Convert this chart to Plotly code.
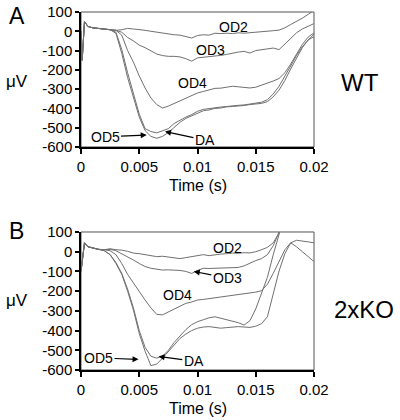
import plotly.graph_objects as go

# ---------------- data ----------------
T = [0, 0.0001, 0.0003, 0.0006,
     0.001, 0.0015, 0.002, 0.0025, 0.003, 0.0035, 0.004, 0.0045, 0.005, 0.0055,
     0.006, 0.0065, 0.007, 0.0075, 0.008, 0.0085, 0.009, 0.0095, 0.010, 0.0105,
     0.011, 0.0115, 0.012, 0.0125, 0.013, 0.0135, 0.014, 0.0145, 0.015, 0.0155,
     0.016, 0.0165, 0.017, 0.0175, 0.018, 0.0185, 0.019, 0.0195, 0.020]

# Panel A (WT)
A_OD2 = [0, -150, 50, 25,
         18, 15, 12, 8, 5, 8, 15, 12, 10, 5,
         0, -5, -10, -12, -18, -20, -28, -35, -22, -18,
         -20, -10, -12, -10, -12, -8, -10, -8, -5, -2,
         0, 3, 6, 18, 35, 50, 68, 88, 108]
A_OD3 = [0, -150, 50, 25,
         18, 15, 12, 8, 5, -5, -32, -50, -72, -85,
         -100, -118, -126, -130, -130, -133, -142, -155, -138, -135,
         -133, -128, -125, -120, -112, -108, -104, -113, -100, -95,
         -90, -87, -95, -65, -35, -8, 12, 28, 40]
A_OD4 = [0, -150, 50, 25,
         18, 15, 12, 8, 5, -20, -100, -160, -232, -294,
         -346, -380, -398, -388, -375, -362, -350, -335, -320, -312,
         -305, -296, -295, -290, -285, -288, -292, -294, -290, -280,
         -270, -258, -245, -215, -170, -120, -68, -30, -8]
A_OD5 = [0, -150, 50, 25,
         18, 15, 12, 8, -10, -115, -240, -346, -445, -515,
         -545, -555, -545, -525, -497, -472, -452, -438, -422, -412,
         -408, -400, -398, -392, -390, -388, -385, -380, -377, -374,
         -365, -340, -305, -255, -195, -140, -85, -45, -28]
A_DA = [0, -150, 50, 25,
        18, 15, 12, 8, -5, -95, -215, -330, -430, -505,
        -520, -527, -518, -505, -478, -460, -445, -432, -415, -405,
        -400, -395, -393, -390, -386, -384, -382, -378, -372, -368,
        -355, -325, -285, -235, -180, -125, -80, -45, -15]

# Panel B (2xKO)
B_OD2 = [-100, -50, 45, 25,
         18, 12, 10, 15, 10, 8, 2, -7, -10, -15,
         -20, -25, -23, -28, -30, -35, -30, -25, -17, -15,
         -20, -15, -12, -10, -7, -8, -5, -6, 0, 10,
         22, 45, 95, 160]
B_OD3 = [-100, -50, 45, 25,
         18, 12, 10, 12, 5, -10, -25, -42, -60, -75,
         -84, -90, -93, -92, -93, -95, -100, -110, -95, -84,
         -85, -84, -83, -85, -84, -80, -72, -57, -45, -35,
         -15, 30, 100, 170]
B_OD4 = [-100, -50, 45, 25,
         18, 12, 10, 5, -15, -60, -115, -160, -205, -245,
         -285, -318, -320, -305, -290, -275, -262, -255, -245, -242,
         -238, -235, -232, -228, -222, -220, -215, -210, -205, -198,
         -165, -110, -50, 10, 45, 25, 0, -25, -50]
B_OD5 = [-100, -50, 45, 25,
         18, 12, 5, -15, -60, -115, -200, -296, -415, -505,
         -578, -570, -540, -505, -470, -440, -418, -400, -388, -382,
         -380, -385, -388, -385, -382, -380, -382, -384, -378, -365,
         -330, -220, -98, -10, 45, 58, 55, 50, 45]
B_DA = [-100, -50, 45, 25,
        18, 12, 5, -15, -55, -110, -190, -285, -400, -485,
        -530, -540, -530, -500, -460, -425, -395, -370, -355, -345,
        -335, -330, -338, -345, -352, -360, -372, -350, -290, -215,
        -130, -15, 100, 190]

X_TICKS = [0, 0.005, 0.01, 0.015, 0.02]
X_TICK_TEXT = ["0", "0.005", "0.01", "0.015", "0.02"]
Y_TICKS = [100, 0, -100, -200, -300, -400, -500, -600]
Y_TICK_TEXT = ["100", "0", "-100", "-200", "-300", "-400", "-500", "-600"]

# ---------------- figure ----------------
FONT = "Liberation Sans, Arial, Helvetica, sans-serif"
LINE = "#707070"

fig = go.Figure()
for vals in [A_OD2, A_OD3, A_OD4, A_OD5, A_DA]:
    fig.add_trace(go.Scatter(x=T[:len(vals)], y=vals, mode="lines",
                             line=dict(color=LINE, width=1), xaxis="x", yaxis="y",
                             showlegend=False, hoverinfo="skip"))
for vals in [B_OD2, B_OD3, B_OD4, B_OD5, B_DA]:
    fig.add_trace(go.Scatter(x=T[:len(vals)], y=vals, mode="lines",
                             line=dict(color=LINE, width=1), xaxis="x2", yaxis="y2",
                             showlegend=False, hoverinfo="skip"))

def xax(anchor):
    return dict(range=[0, 0.02], tickvals=X_TICKS, ticktext=X_TICK_TEXT,
                showline=True, linecolor="black", linewidth=1.5,
                ticks="outside", ticklen=5, tickwidth=1.5, tickcolor="black",
                showgrid=False, zeroline=False, anchor=anchor, automargin=False,
                tickfont=dict(family=FONT, size=15, color="black"))

def yax(anchor, dom):
    return dict(range=[-600, 100], tickvals=Y_TICKS, ticktext=Y_TICK_TEXT,
                showline=True, linecolor="black", linewidth=1.5,
                ticks="outside", ticklen=4, tickwidth=1.5, tickcolor="black",
                showgrid=False, zeroline=False, anchor=anchor, domain=dom,
                automargin=False, ticklabeloverflow="allow",
                tickfont=dict(family=FONT, size=15, color="black"))

fig.update_layout(
    width=400, height=420,
    margin=dict(l=81, r=86, t=12, b=50),
    paper_bgcolor="white", plot_bgcolor="white",
    xaxis=xax("y"), yaxis=yax("x", [0.623, 1.0]),
    xaxis2=xax("y2"), yaxis2=yax("x2", [0.0, 0.3855]),
    font=dict(family=FONT, color="black"),
    hovermode=False,
)

shapes = []
for xr, yr in [("x domain", "y domain"), ("x2 domain", "y2 domain")]:
    shapes.append(dict(type="rect", xref=xr, yref=yr, x0=0, x1=1, y0=0, y1=1,
                       line=dict(color="#555555", width=1), layer="below"))
fig.update_layout(shapes=shapes)

ann = []
def ptext(t, x, y, size):
    ann.append(dict(text=t, x=x, y=y, xref="paper", yref="paper", showarrow=False,
                    xanchor="center", yanchor="middle",
                    font=dict(family=FONT, size=size, color="black")))

ptext("A", -0.275, 0.990, 23)
ptext("B", -0.275, 0.387, 23)
ptext("\u03bcV", -0.275, 0.807, 17)
ptext("\u03bcV", -0.275, 0.193, 17)
ptext("WT", 1.197, 0.803, 24)
ptext("2xKO", 1.216, 0.170, 24)
ptext("Time (s)", 0.5, 0.516, 16)
ptext("Time (s)", 0.5, -0.107, 16)

def dtext(t, xr, yr, x, y):
    ann.append(dict(text=t, x=x, y=y, xref=xr, yref=yr, showarrow=False,
                    xanchor="center", yanchor="middle",
                    font=dict(family=FONT, size=14, color="black")))

def arrow(t, xr, yr, hx, hy, tx, ty):
    ann.append(dict(text=t, x=hx, y=hy, ax=tx, ay=ty, xref=xr, yref=yr,
                    axref=xr, ayref=yr, showarrow=True, arrowhead=2,
                    arrowsize=1, arrowwidth=1.2, arrowcolor="black",
                    standoff=0, startstandoff=0,
                    font=dict(family=FONT, size=14, color="black")))

# Panel A labels
dtext("OD2", "x", "y", 0.01305, 22)
dtext("OD3", "x", "y", 0.0111, -97)
dtext("OD4", "x", "y", 0.0096, -268)
arrow("OD5", "x", "y", 0.00564, -538, 0.00206, -548)
arrow("DA", "x", "y", 0.00721, -520, 0.01064, -564)

# Panel B labels
dtext("OD2", "x2", "y2", 0.01256, 19)
arrow("OD3", "x2", "y2", 0.00968, -100, 0.01256, -133)
dtext("OD4", "x2", "y2", 0.00825, -218)
arrow("OD5", "x2", "y2", 0.00494, -546, 0.0015, -539)
arrow("DA", "x2", "y2", 0.00666, -531, 0.00968, -556)

fig.update_layout(annotations=ann)
# remove the default 8px page margin so the 400x420 figure fills the window
fig.write_html("out.html", config={"displayModeBar": False},
               post_script="document.body.style.margin='0px';")
